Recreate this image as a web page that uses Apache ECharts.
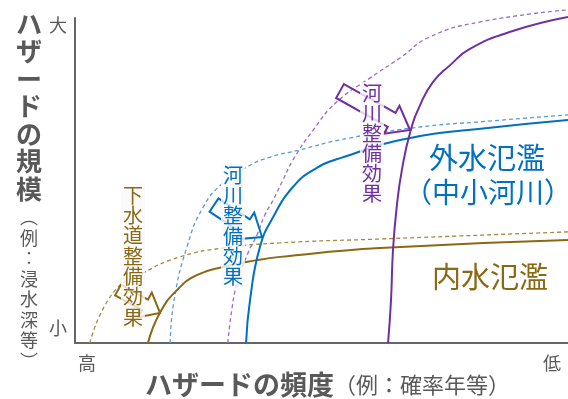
<!DOCTYPE html>
<html>
<head>
<meta charset="utf-8">
<script src="https://cdn.jsdelivr.net/npm/echarts@6/dist/echarts.min.js"></script>
<style>
html, body { margin: 0; padding: 0; background: #fff; }
#main { width: 568px; height: 399px; }
</style>
</head>
<body>
<div id="main"></div>
<script>
// 内水氾濫（下水道）: 整備前(点線) / 整備後(実線)
const innerBefore = [[3.0,0],[7.7,15.4],[13.8,21.5],[21.3,26.5],[30.0,29.2],[41.6,30.8],[61.9,32.0],[100,34.2]];
const innerAfter = [[14.8,0],[17.2,9.2],[20.7,16.3],[24.7,20.9],[30.0,23.4],[36.9,25.5],[41.6,26.5],[61.9,29.2],[100,31.7]];
// 外水氾濫（中小河川）
const smallBefore = [[19.3,0],[20.1,13.2],[22.7,29.5],[26.0,41.8],[30.0,49.2],[34.9,54.2],[39.6,57.2],[45.6,59.4],[53.8,62.5],[68.6,66.2],[84.2,68.3],[100,70.2]];
const smallAfter = [[34.7,0],[35.5,13.2],[37.5,29.5],[40.2,38.8],[44.2,48.0],[48.3,53.2],[53.8,56.9],[68.0,63.1],[84.2,66.2],[100,68.6]];
// 河川
const riverBefore = [[31.0,0],[31.8,10.2],[32.9,18.5],[35.1,27.7],[36.9,33.2],[38.5,39.4],[40.2,44.0],[42.2,50.2],[44.2,56.3],[48.3,65.5],[53.1,74.2],[59.8,81.5],[65.9,87.7],[72.0,94.2],[82.2,98.8],[100,102.5]];
const riverAfter = [[63.5,0],[64.1,13.2],[64.5,28.6],[65.3,42.5],[66.3,53.2],[68.0,64.9],[70.0,73.2],[72.6,80.3],[76.1,85.5],[80.1,90.5],[88.8,96.0],[100,100.3]];

const BROWN = '#8B6914', BROWN_L = '#A8893C';
const BLUE = '#0070C0', BLUE_L = '#5B9BD5';
const PURPLE = '#7030A0', PURPLE_L = '#9B6BC8';
const GRAY = '#595959';
const FONT = '"Noto Sans CJK JP", sans-serif';

const chart = echarts.init(document.getElementById('main'));

function line(data, color, dashed) {
  return {
    type: 'line',
    data: data,
    smooth: 0.5,
    showSymbol: false,
    symbol: 'none',
    clip: false,
    lineStyle: { color: color, width: dashed ? 1.3 : 2, type: dashed ? [4, 3] : 'solid' }
  };
}

// 縦書きテキスト
function vtext(str, x, top, size, lh, color, weight, bg) {
  return {
    type: 'text',
    x: x, y: top, z: 120,
    style: {
      text: str.split('').join('\n'),
      font: (weight || 'normal') + ' ' + size + 'px ' + FONT,
      fill: color,
      align: 'center',
      verticalAlign: 'top',
      lineHeight: lh,
      backgroundColor: bg || 'transparent',
      padding: bg ? [1, 2] : 0
    }
  };
}

function htext(str, x, y, size, color, weight) {
  return {
    type: 'text', x: x, y: y, z: 120,
    style: {
      text: str, font: (weight || 'normal') + ' ' + size + 'px ' + FONT,
      fill: color, align: 'center', verticalAlign: 'middle'
    }
  };
}

// 白抜き矢印
function arrow(x0, y0, x1, y1, hw, HW, hl, color) {
  const dx = x1 - x0, dy = y1 - y0, L = Math.hypot(dx, dy);
  const ux = dx / L, uy = dy / L, nx = -uy, ny = ux;
  const p = (a, b) => [x0 + ux * a + nx * b, y0 + uy * a + ny * b];
  return {
    type: 'polygon', z: 100,
    shape: { points: [p(0, -hw), p(L - hl, -hw), p(L - hl, -HW), p(L, 0), p(L - hl, HW), p(L - hl, hw), p(0, hw)] },
    style: { fill: 'none', stroke: color, lineWidth: 2 }
  };
}

const BOX = 'rgba(250,250,250,0.8)';

const option = {
  animation: false,
  backgroundColor: '#fff',
  grid: { left: 75, right: 0, top: 18, bottom: 56 },
  xAxis: {
    type: 'value', min: 0, max: 100,
    axisLine: { lineStyle: { color: '#666', width: 2 } },
    axisTick: { show: false }, axisLabel: { show: false }, splitLine: { show: false }
  },
  yAxis: {
    type: 'value', min: 0, max: 100,
    axisLine: { show: true, lineStyle: { color: '#666', width: 2 } },
    axisTick: { show: false }, axisLabel: { show: false }, splitLine: { show: false }
  },
  series: [
    line(innerBefore, BROWN_L, true),
    line(smallBefore, BLUE_L, true),
    line(riverBefore, PURPLE_L, true),
    line(innerAfter, BROWN, false),
    line(smallAfter, BLUE, false),
    line(riverAfter, PURPLE, false)
  ],
  graphic: [
    arrow(118, 290, 160, 313, 6, 14, 17, BROWN),
    arrow(214, 205, 262, 237, 8, 16, 20, BLUE),
    arrow(340, 91, 410, 130, 8, 16, 21, PURPLE),
    vtext('ハザードの規模', 29, 10, 26, 27.5, GRAY, 'bold'),
    vtext('︵例︰浸水深等︶', 29, 207, 18, 20.5, GRAY),
    htext('大', 58, 25, 18, GRAY),
    htext('小', 58, 328, 18, GRAY),
    htext('高', 87, 363, 18, GRAY),
    htext('低', 552, 363, 18, GRAY),
    {
      type: 'text', x: 145, y: 385, z: 120,
      style: {
        text: '{b|ハザードの頻度}{n|（例：確率年等）}',
        align: 'left', verticalAlign: 'middle',
        rich: {
          b: { font: 'bold 27px ' + FONT, fill: GRAY },
          n: { font: 'normal 22px ' + FONT, fill: GRAY }
        }
      }
    },
    vtext('下水道整備効果', 133, 184, 20, 20.3, BROWN, 'normal', BOX),
    vtext('河川整備効果', 233, 164, 20, 20.3, BLUE, 'normal', BOX),
    vtext('河川整備効果', 372, 82, 20, 20, PURPLE, 'normal', BOX),
    htext('外水氾濫', 487, 158, 29, BLUE),
    htext('（中小河川）', 488, 192, 28, BLUE),
    htext('内水氾濫', 490, 277, 29, BROWN)
  ]
};
chart.setOption(option);
</script>
</body>
</html>
